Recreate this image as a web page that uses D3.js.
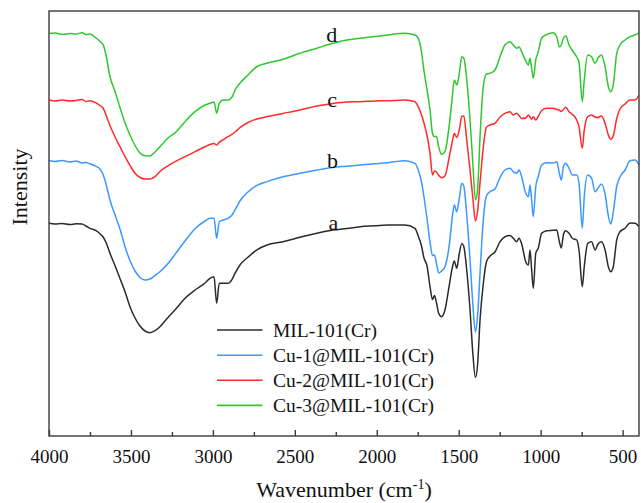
<!DOCTYPE html>
<html>
<head>
<meta charset="utf-8">
<script src="https://cdn.jsdelivr.net/npm/d3@7"></script>
<style>
  html, body { margin: 0; padding: 0; background: #fff; }
  svg { display: block; }
  svg text { font-family: "Liberation Serif", "Times New Roman", "DejaVu Serif", serif !important; fill: #111; }
</style>
</head>
<body>
<svg id="chart" width="641" height="503"></svg>
<script>
// FTIR spectra of MIL-101(Cr) and the Cu-loaded samples (stacked, arbitrary intensity units)
const wavenumbers = [
  4000, 3963, 3921, 3872, 3835, 3799, 3774, 3750, 3713, 3689,
  3670, 3652, 3628, 3597, 3567, 3536, 3506, 3475, 3445, 3414,
  3384, 3353, 3323, 3274, 3225, 3170, 3109, 3048, 3018, 2993,
  2977, 2961, 2938, 2908, 2883, 2865, 2835, 2786, 2731, 2670,
  2572, 2469, 2365, 2267, 2182, 2102, 2011, 1932, 1828, 1767,
  1747, 1727, 1712, 1694, 1675, 1660, 1648, 1636, 1622, 1605,
  1584, 1559, 1539, 1527, 1512, 1498, 1481, 1469, 1453, 1431,
  1414, 1398, 1385, 1370, 1350, 1331, 1309, 1279, 1248, 1218,
  1187, 1167, 1146, 1132, 1116, 1091, 1075, 1065, 1055, 1045,
  1030, 1015, 994, 963, 925, 902, 886, 874, 861, 847,
  827, 806, 780, 766, 746, 734, 713, 689, 668, 650,
  629, 607, 587, 572, 557, 536, 516, 485, 455, 424, 400
];

const seriesA = [ // MIL-101(Cr)
  212.7, 212, 212.5, 211.5, 212.2, 212, 210, 207.7, 205.3, 202.3,
  199, 193.5, 182.7, 170.3, 157.5, 144.3, 129.3, 118, 110, 105,
  103.3, 105.3, 109.3, 118.5, 127.2, 137.7, 146, 153, 157.7, 159.3,
  132.7, 152.7, 152.7, 152.7, 156.7, 162.7, 171, 178.8, 186.2, 191,
  194.2, 198.7, 202.8, 206, 207.4, 209.3, 210.2, 211, 211, 207.7,
  200, 190, 178, 170.5, 149.3, 136.5, 140.5, 133.5, 122.5, 119.3,
  126, 149.3, 168.5, 175, 167.7, 181, 192.5, 189.5, 169, 126,
  83, 58.5, 71, 116, 152.5, 174, 180, 184, 194.3, 199.3,
  200.5, 197.7, 194.3, 197.7, 192, 174.3, 171, 186, 166, 147.7,
  182.7, 187.7, 202.7, 205.3, 205.7, 206, 194.3, 188, 201.5, 205.3,
  202.7, 197.5, 196, 186, 149.3, 169.3, 192.7, 194.3, 186, 192,
  194.3, 186, 169.3, 164.3, 169.3, 196, 204.3, 207.7, 213, 212.7, 209.3
];

const seriesB = [ // Cu-1@MIL-101(Cr)
  275.3, 274.5, 275.5, 274, 275, 273, 273.5, 272.2, 269.6, 267,
  261.5, 252, 236, 221, 207, 189.3, 175.5, 165, 158.5, 156,
  157, 160.5, 164.3, 172.4, 183, 195, 207.3, 215, 217.7, 217.7,
  197.7, 214.3, 216, 217.6, 221, 226, 235, 244, 250.7, 254.4,
  259.2, 262.7, 266, 268.6, 269.8, 271, 272.2, 273.3, 275.3, 272.7,
  266, 254, 239, 218, 194, 180.5, 181, 173, 163, 165,
  169.3, 189.3, 219.3, 231, 224.3, 236, 252.7, 250, 225, 176,
  132, 104, 120, 162.7, 216, 240, 244.3, 247, 258.5, 266,
  267.7, 264.3, 262.7, 266, 259.3, 243, 239.3, 251, 236, 219.3,
  249.3, 259.3, 271, 273.3, 273, 274.3, 262.7, 256, 269.5, 272.7,
  267.7, 261, 261, 252.7, 207.7, 239.3, 261, 257.7, 244.3, 248,
  252, 242, 220, 212, 224, 249.5, 259, 266, 275.2, 276, 271
];

const seriesC = [ // Cu-2@MIL-101(Cr)
  336, 335, 336, 335, 335.5, 336.5, 334.5, 335.3, 333, 330.5,
  328, 321, 310.5, 299, 289.3, 279.3, 270.7, 262.7, 258.5, 257,
  257, 259.3, 264.5, 270.2, 274.8, 279.3, 284.3, 289.3, 291.5, 292.5,
  291, 293.7, 296.2, 299.3, 301.8, 304, 308.3, 313.5, 317, 319.4,
  322.6, 326, 330, 332.6, 334, 334.3, 335, 335.3, 336, 334.3,
  329.3, 321, 313, 301, 282.7, 261, 265, 264, 260.7, 258.3,
  260, 278, 294.5, 302.5, 298.5, 305, 319.5, 320, 299, 266,
  238, 215, 225, 253, 289, 308.7, 311, 312.7, 319, 322.7,
  324.3, 321, 322.7, 320.5, 317.5, 318, 321, 319, 316.7, 319.3,
  316, 319.5, 325.5, 327.7, 327.7, 326.5, 325.7, 324.5, 326.5, 328.7,
  324.3, 321.5, 316, 309.3, 287.7, 306, 319.3, 321, 319, 318.5,
  320, 312.7, 301, 296.7, 300, 317.5, 327, 332, 336, 336, 341
];

const seriesD = [ // Cu-3@MIL-101(Cr)
  402.5, 403, 401.5, 402.5, 402, 403.3, 401.5, 402, 398, 394.5,
  391.3, 381, 359.3, 344.5, 328.5, 313, 301, 290.5, 283, 280.2,
  280, 284, 289.3, 298, 304, 314.3, 324.3, 331, 332.7, 334,
  322.7, 332.7, 336, 336, 339, 346, 352.7, 361, 369.5, 372.8,
  376.7, 382.7, 387.8, 392.7, 396, 397.7, 399.5, 401, 402.7, 401,
  397.7, 384, 365, 347, 326, 302.5, 299.3, 299.5, 289, 281.5,
  284.3, 309.3, 339.3, 356, 351, 361, 379.3, 378, 360, 316,
  273, 236, 246, 299.3, 349.3, 362, 362.7, 366, 379.3, 391,
  394.3, 391, 387.7, 389.3, 384.3, 375, 371, 377.7, 368, 357.7,
  376, 384, 398, 401.5, 403.3, 399.3, 389, 391, 398, 400,
  391, 385.5, 379, 374, 334.3, 356, 381, 379.3, 372.7, 378,
  381, 369.3, 349.3, 344.3, 351, 382.7, 391, 396, 399.3, 401, 403
];

const seriesNames  = ["MIL-101(Cr)", "Cu-1@MIL-101(Cr)", "Cu-2@MIL-101(Cr)", "Cu-3@MIL-101(Cr)"];
const seriesTags   = ["a", "b", "c", "d"];
const seriesColors = ["#2b2b2b", "#3a98ff", "#ff2a2a", "#2ec82e"];
const seriesValues = [seriesA, seriesB, seriesC, seriesD];
const tagPositions = [[2265, 206], [2270, 268.5], [2272, 329.5], [2275, 394.5]]; // [wavenumber, intensity] of each trace tag

const xTicksMajor = [4000, 3500, 3000, 2500, 2000, 1500, 1000, 500];
const xTicksMinor = [3750, 3250, 2750, 2250, 1750, 1250, 750];

const FONT = "'Liberation Serif', 'Times New Roman', 'DejaVu Serif', serif";

const svg = d3.select("#chart").attr("font-family", FONT);
const plot = { left: 49, right: 639, top: 11, bottom: 436 };

const x = d3.scaleLinear().domain([4000, 400]).range([plot.left, plot.right]);
const y = d3.scaleLinear().domain([0, 425]).range([plot.bottom, plot.top]);

svg.append("defs").append("clipPath").attr("id", "plotClip")
  .append("rect")
  .attr("x", plot.left).attr("y", plot.top)
  .attr("width", plot.right - plot.left).attr("height", plot.bottom - plot.top);

// spectra
const line = d3.line()
  .x((d, i) => x(wavenumbers[i]))
  .y(d => y(d))
  .curve(d3.curveMonotoneX);

const traces = svg.append("g").attr("clip-path", "url(#plotClip)");
seriesValues.forEach((vals, k) => {
  traces.append("path")
    .datum(vals)
    .attr("fill", "none")
    .attr("stroke", seriesColors[k])
    .attr("stroke-width", 1.5)
    .attr("stroke-linejoin", "round")
    .attr("d", line);
});

// trace tags a–d
seriesTags.forEach((t, k) => {
  svg.append("text")
    .attr("x", x(tagPositions[k][0]))
    .attr("y", y(tagPositions[k][1]))
    .attr("text-anchor", "middle")
    .attr("font-family", FONT)
    .style("font-size", "22px")
    .text(t);
});

// frame
svg.append("rect")
  .attr("x", plot.left).attr("y", plot.top)
  .attr("width", plot.right - plot.left).attr("height", plot.bottom - plot.top)
  .attr("fill", "none").attr("stroke", "#3a3a3a").attr("stroke-width", 1.4);

// bottom axis with inward ticks
const axisG = svg.append("g").attr("transform", `translate(0,${plot.bottom})`);
axisG.call(d3.axisBottom(x).tickValues(xTicksMajor).tickSize(-6).tickFormat(d3.format("d")));
axisG.attr("font-family", FONT);
axisG.select(".domain").remove();
axisG.selectAll(".tick line").attr("stroke", "#3a3a3a").attr("stroke-width", 1.4);
axisG.selectAll(".tick text")
  .attr("y", 27).attr("dy", 0)
  .attr("font-family", FONT)
  .style("font-size", "19px")
  .attr("fill", "#111");

const minorG = svg.append("g").attr("transform", `translate(0,${plot.bottom})`);
minorG.call(d3.axisBottom(x).tickValues(xTicksMinor).tickSize(-4).tickFormat(""));
minorG.select(".domain").remove();
minorG.selectAll(".tick line").attr("stroke", "#3a3a3a").attr("stroke-width", 1.4);

// axis titles
const xTitle = svg.append("text")
  .attr("x", 344).attr("y", 497)
  .attr("text-anchor", "middle")
  .attr("font-family", FONT)
  .style("font-size", "22px");
xTitle.append("tspan").text("Wavenumber (cm");
xTitle.append("tspan").attr("dy", -8).style("font-size", "14px").text("-1");
xTitle.append("tspan").attr("dy", 8).text(")");

svg.append("text")
  .attr("transform", "translate(27,187) rotate(-90)")
  .attr("text-anchor", "middle")
  .attr("font-family", FONT)
  .style("font-size", "22px")
  .text("Intensity");

// legend
const legend = svg.append("g");
const legendRows = [330, 355.2, 380.3, 405.4];
seriesNames.forEach((name, k) => {
  legend.append("line")
    .attr("x1", 217).attr("x2", 262.5)
    .attr("y1", legendRows[k]).attr("y2", legendRows[k])
    .attr("stroke", seriesColors[k]).attr("stroke-width", 1.6);
  legend.append("text")
    .attr("x", 273).attr("y", legendRows[k] + 7)
    .attr("font-family", FONT)
    .style("font-size", "19.5px")
    .text(name);
});
</script>
</body>
</html>
